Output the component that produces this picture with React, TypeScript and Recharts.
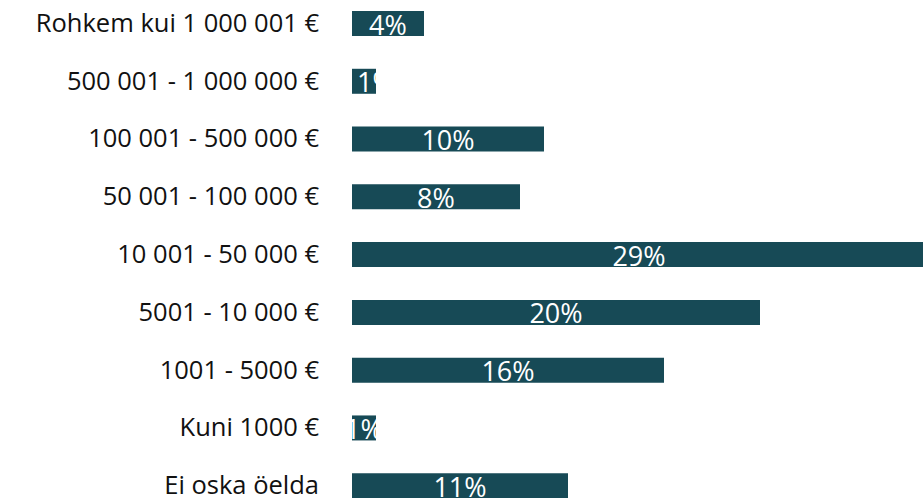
import React from "react";
import { BarChart, Bar, XAxis, YAxis, LabelList } from "recharts";

const categories = [
  "Rohkem kui 1 000 001 €",
  "500 001 - 1 000 000 €",
  "100 001 - 500 000 €",
  "50 001 - 100 000 €",
  "10 001 - 50 000 €",
  "5001 - 10 000 €",
  "1001 - 5000 €",
  "Kuni 1000 €",
  "Ei oska öelda",
];
const values = [3.6, 1.2, 9.6, 8.4, 28.7, 20.4, 15.6, 1.2, 10.8];
const valueLabels = ["4%", "1%", "10%", "8%", "29%", "20%", "16%", "1%", "11%"];

const data = categories.map((name, i) => ({ name, value: values[i], label: valueLabels[i] }));

const FONT = "'Open Sans', 'Noto Sans', sans-serif";
const BAR_COLOR = "#174A56";

const CategoryTick = (props: any) => {
  const { x, y, payload } = props;
  return (
    <text x={x} y={y + 8} textAnchor="end" fontFamily={FONT} fontSize={25.5} fill="#111">
      {payload.value}
    </text>
  );
};

const BarLabel = (props: any) => {
  const { x, y, width, height, index } = props;
  const label = valueLabels[index];
  const id = `barclip-${index}`;
  const small = width < 30;
  const tx = small && index === 1 ? x + 5 : x + width / 2;
  const anchor = small && index === 1 ? "start" : "middle";
  return (
    <g>
      <defs>
        <clipPath id={id}>
          <rect x={x} y={y} width={width} height={height} />
        </clipPath>
      </defs>
      <text
        x={tx}
        y={y + height / 2 + 11}
        textAnchor={anchor}
        fontFamily={FONT}
        fontSize={27}
        fill="#ffffff"
        clipPath={`url(#${id})`}
      >
        {label}
      </text>
    </g>
  );
};

export default function App() {
  return (
    <div
      style={{
        position: "absolute",
        left: 0,
        top: 0,
        width: 923,
        height: 498,
        overflow: "hidden",
        background: "#fff",
      }}
    >
      <div style={{ marginTop: -5.5 }}>
        <BarChart
          width={960}
          height={520}
          data={data}
          layout="vertical"
          margin={{ top: 0, right: 8, bottom: 0, left: 0 }}
        >
          <XAxis type="number" domain={[0, 30]} hide />
          <YAxis
            type="category"
            dataKey="name"
            width={352}
            axisLine={false}
            tickLine={false}
            tickSize={0}
            tickMargin={33}
            tick={<CategoryTick />}
            interval={0}
          />
          <Bar dataKey="value" fill={BAR_COLOR} barSize={25} isAnimationActive={false}>
            <LabelList dataKey="label" content={<BarLabel />} />
          </Bar>
        </BarChart>
      </div>
    </div>
  );
}
